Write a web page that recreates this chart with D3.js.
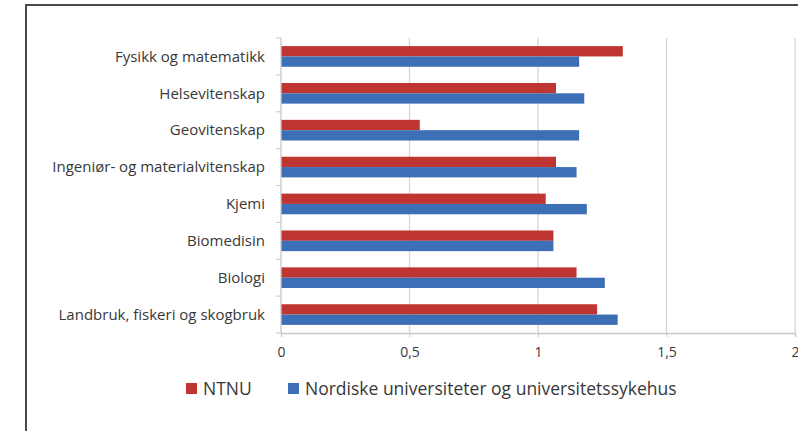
<!DOCTYPE html>
<html>
<head>
<meta charset="utf-8">
<script src="https://cdn.jsdelivr.net/npm/d3@7"></script>
<style>
    body { margin: 0; background: #fff; }
    text { font-family: "Open Sans", sans-serif; fill: #383838; }
</style>
</head>
<body>
<svg id="chart" width="798" height="431"></svg>
<script>
    // categories top to bottom, as in the chart
    var categories = ["Fysikk og matematikk", "Helsevitenskap", "Geovitenskap",
        "Ingeniør- og materialvitenskap", "Kjemi", "Biomedisin", "Biologi",
        "Landbruk, fiskeri og skogbruk"];
    var seriesNames = ["NTNU", "Nordiske universiteter og universitetssykehus"];
    var ntnu = [1.33, 1.07, 0.54, 1.07, 1.03, 1.06, 1.15, 1.23];
    var nordic = [1.16, 1.18, 1.16, 1.15, 1.19, 1.06, 1.26, 1.31];
    var xTicks = [0, 0.5, 1, 1.5, 2];
    var xTickLabels = ["0", "0,5", "1", "1,5", "2"];
    var colors = ["#be3531", "#3d6fb6"];

    var svg = d3.select("#chart");
    var plotLeft = 281, plotRight = 795, plotTop = 38, plotBottom = 333;

    /* outer frame, only top and left edges show inside the crop */
    svg.append("path")
        .attr("d", "M26,440 V5 H810")
        .attr("fill", "none").attr("stroke", "#4a4a4a").attr("stroke-width", 2);

    var x = d3.scaleLinear().domain([0, 2]).range([plotLeft, plotRight]);
    var y = d3.scaleBand().domain(categories).range([plotTop, plotBottom])
                .paddingInner(0.44).paddingOuter(0.22);
    var ySub = d3.scaleBand().domain([0, 1]).range([0, y.bandwidth()]);

    // gridlines
    svg.append("g").selectAll("line")
        .data(xTicks.slice(1))
        .join("line")
        .attr("x1", d => x(d)).attr("x2", d => x(d))
        .attr("y1", plotTop).attr("y2", plotBottom)
        .attr("stroke", "#d6d6d6").attr("stroke-width", 1.3);

    // bars
    var rows = categories.map((c, i) => ({ cat: c, vals: [ntnu[i], nordic[i]] }));
    svg.append("g").selectAll("g")
        .data(rows)
        .join("g")
        .attr("transform", d => "translate(0," + y(d.cat) + ")")
        .selectAll("rect")
        .data(d => d.vals.map((v, k) => ({ v: v, k: k })))
        .join("rect")
        .attr("x", x(0))
        .attr("y", d => ySub(d.k))
        .attr("width", d => x(d.v) - x(0))
        .attr("height", ySub.bandwidth())
        .attr("fill", d => colors[d.k]);

    // x axis
    var xAxis = d3.axisBottom(x).tickValues(xTicks)
                    .tickFormat((d, i) => xTickLabels[i]).tickSize(4).tickPadding(10);
    var gx = svg.append("g").attr("transform", "translate(0," + plotBottom + ")").call(xAxis);
    gx.select(".domain").attr("stroke", "#c8c8c8").attr("stroke-width", 1.3);
    gx.selectAll(".tick line").attr("stroke", "#c8c8c8");
    gx.selectAll(".tick text").style("font-size", "14px").style("font-family", "Open Sans")
        .attr("fill", "#383838");

    // y axis, ticks at band edges
    svg.append("line")
        .attr("x1", plotLeft).attr("x2", plotLeft).attr("y1", plotTop).attr("y2", plotBottom)
        .attr("stroke", "#c8c8c8").attr("stroke-width", 1.3);
    var edges = d3.range(categories.length + 1).map(i => plotTop + i * y.step());
    svg.append("g").selectAll("line")
        .data(edges)
        .join("line")
        .attr("x1", plotLeft - 5).attr("x2", plotLeft)
        .attr("y1", d => d).attr("y2", d => d)
        .attr("stroke", "#c8c8c8");
    svg.append("g").selectAll("text")
        .data(categories)
        .join("text")
        .attr("x", 265)
        .attr("y", d => y(d) + y.bandwidth() / 2)
        .attr("dy", "0.35em")
        .attr("text-anchor", "end")
        .style("font-size", "15px")
        .text(d => d);

    // legend
    var legendX = [186, 288];
    var lg = svg.append("g").selectAll("g")
        .data(seriesNames)
        .join("g")
        .attr("transform", (d, i) => "translate(" + legendX[i] + ",383)");
    lg.append("rect").attr("width", 11).attr("height", 11)
        .attr("fill", (d, i) => colors[i]);
    lg.append("text").attr("x", 17).attr("y", 6).attr("dy", "0.35em")
        .style("font-size", "17.5px")
        .text(d => d);
</script>
</body>
</html>
